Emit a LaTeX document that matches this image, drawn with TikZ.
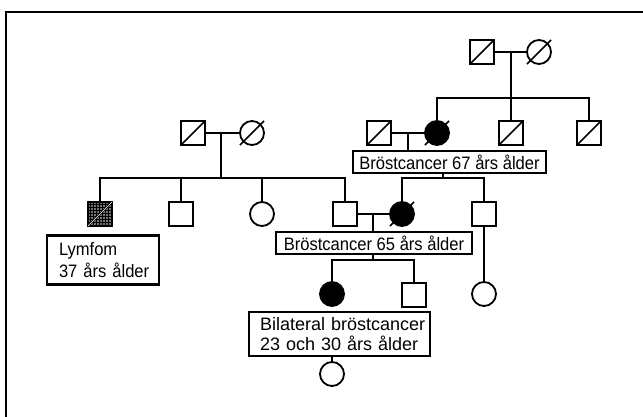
\documentclass[tikz,border=0pt]{standalone}
\usepackage{fontspec}
\setmainfont{Liberation Sans}
\newfontfamily\narrowf{Liberation Sans}[FakeStretch=0.92]
\usetikzlibrary{patterns}
\tikzset{
  sq/.style={draw, line width=1.8pt, minimum size=24pt, inner sep=0pt, outer sep=0pt},
  ci/.style={draw, circle, line width=1.8pt, minimum size=24pt, inner sep=0pt, outer sep=0pt},
  aff/.style={fill=black},
  conn/.style={line width=1.5pt},
  dead/.style={line width=1.6pt},
  lab/.style={draw, line width=2.2pt, inner sep=0pt, outer sep=0pt, align=left,
              font=\narrowf\fontsize{18}{20}\selectfont},
}
\newcommand\deadsq[1]{\draw[dead] (#1.south west) -- (#1.north east);}
\newcommand\deadci[1]{\draw[dead] ([shift={(135:17)}]#1.center) -- ([shift={(-45:17)}]#1.center);}
\begin{document}
\begin{tikzpicture}[x=1pt,y=-1pt]
\useasboundingbox (0,0) rectangle (643,417);
\fill[white] (0,0) rectangle (643,417);
\draw[line width=1.5pt] (6,430) -- (6,12) -- (660,12);

% generation I
\node[sq] (m1) at (482,52) {};
\node[ci] (f1) at (539,52) {};
\deadsq{m1}\deadci{f1}
% generation II
\node[sq] (a2) at (379,133) {};
\node[ci,aff] (b2) at (437,133) {};
\node[sq] (c2) at (511,133) {};
\node[sq] (d2) at (589,133) {};
\node[sq] (e2) at (193,133) {};
\node[ci] (f2) at (252,133) {};
\deadsq{a2}\deadci{b2}\deadsq{c2}\deadsq{d2}\deadsq{e2}\deadci{f2}
% generation III
\node[sq, preaction={fill=black!55}, pattern=grid] (g3) at (100,214) {};
\draw[line width=1.8pt] (g3.south west) -- (g3.north east);
\draw[white, line width=0.7pt] (g3.south west) -- (g3.north east);
\node[sq] (h3) at (181,214) {};
\node[ci] (i3) at (262,214) {};
\node[sq] (j3) at (345,214) {};
\node[ci,aff] (k3) at (402,214) {};
\node[sq] (l3) at (484,214) {};
\deadci{k3}
% generation IV
\node[ci,aff] (m4) at (332,294) {};
\node[sq] (n4) at (414,295) {};
\node[ci] (o4) at (484,294) {};
% generation V
\node[ci] (p5) at (332,374) {};

% labels
\node[lab, minimum width=193pt, minimum height=22pt] (t67) at (449.5,162) {Bröstcancer 67 års ålder};
\node[lab, minimum width=196pt, minimum height=22pt] (t65) at (374,243) {Bröstcancer 65 års ålder};
\node[lab, minimum height=49pt, text width=106pt, inner xsep=3pt,
      font=\narrowf\fontsize{18}{22}\selectfont] (tly) at (103,260)
      {\hspace*{9pt}Lymfom\\\hspace*{9pt}37 års ålder};
\node[lab, minimum height=44pt, text width=175pt, inner xsep=3pt,
      font=\fontsize{18}{19.5}\selectfont] (tbi) at (339.5,334)
      {\hspace*{8pt}Bilateral bröstcancer\\\hspace*{8pt}23 och 30 års ålder};

% connector points
\coordinate (s1) at (0,98);
\coordinate (s2) at (0,178);
\coordinate (s3) at (0,260);
\coordinate (u1) at (408,133);
\coordinate (d67) at (443,0);
\coordinate (u2) at (221,133);
\coordinate (u3) at (373,214);

\draw[conn] (m1.east) -- (f1.west);
\draw[conn] (c2.north) -- (c2.north |- m1.east);
\draw[conn] (b2.north) -- (b2.north |- s1) -- (d2.north |- s1) -- (d2.north);

\draw[conn] (a2.east) -- (b2.west);
\draw[conn] (u1) -- (u1 |- t67.north);
\draw[conn] (d67 |- t67.south) -- (d67 |- s2);
\draw[conn] (k3.north) -- (k3.north |- s2) -- (l3.north |- s2) -- (l3.north);

\draw[conn] (e2.east) -- (f2.west);
\draw[conn] (u2) -- (u2 |- s2);
\draw[conn] (g3.north) -- (g3.north |- s2) -- (j3.north |- s2) -- (j3.north);
\draw[conn] (h3.north) -- (h3.north |- s2);
\draw[conn] (i3.north) -- (i3.north |- s2);

\draw[conn] (j3.east) -- (k3.west);
\draw[conn] (u3) -- (u3 |- t65.north);
\draw[conn] (u3 |- t65.south) -- (u3 |- s3);
\draw[conn] (m4.north) -- (m4.north |- s3) -- (n4.north |- s3) -- (n4.north);
\draw[conn] (l3.south) -- (o4.north);

\draw[conn] (p5.north |- tbi.south) -- (p5.north);
\end{tikzpicture}
\end{document}
